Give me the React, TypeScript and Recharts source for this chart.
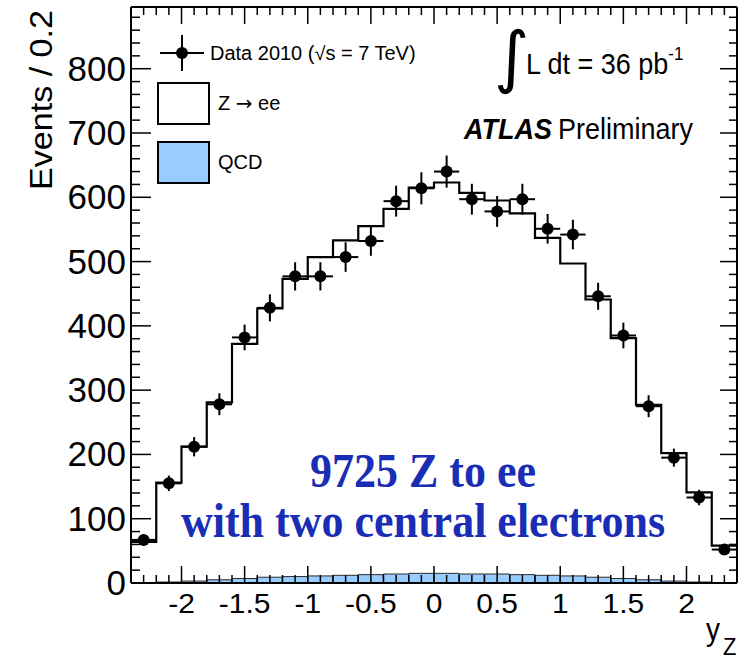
import React from 'react';
import { ComposedChart, XAxis, YAxis, Bar, Line, Scatter, ErrorBar } from 'recharts';

// ---- data ----
const binCenters = [-2.3, -2.1, -1.9, -1.7, -1.5, -1.3, -1.1, -0.9, -0.7, -0.5, -0.3, -0.1, 0.1, 0.3, 0.5, 0.7, 0.9, 1.1, 1.3, 1.5, 1.7, 1.9, 2.1, 2.3];
const binEdges = [-2.4, -2.2, -2.0, -1.8, -1.6, -1.4, -1.2, -1.0, -0.8, -0.6, -0.4, -0.2, 0, 0.2, 0.4, 0.6, 0.8, 1.0, 1.2, 1.4, 1.6, 1.8, 2.0, 2.2, 2.4];
const dataEvents = [67, 155, 212, 278, 382, 428, 477, 477, 507, 532, 594, 614, 640, 597, 578, 597, 551, 542, 446, 385, 275, 195, 133, 52];
const dataErrors = [8, 12, 15, 17, 20, 21, 22, 22, 23, 23, 24, 25, 25, 24, 24, 24, 23, 23, 21, 20, 17, 14, 12, 7];
const mcTotal = [64, 156, 212, 281, 372, 427, 473, 507, 533, 555, 582, 615, 623, 607, 595, 575, 537, 497, 441, 381, 277, 202, 141, 58];
const qcdEvents = [0.5, 1.5, 3, 5, 7, 9, 10, 11, 12, 13, 14, 15, 15, 14, 14, 13, 12, 11, 9, 7, 5, 3, 1.5, 0.5];
const binHalfWidth = 0.1;

const xMajorTicks = [-2, -1.5, -1, -0.5, 0, 0.5, 1, 1.5, 2];
const xAllTicks = Array.from({ length: 47 }, (_, i) => Math.round(-23 + i) / 10);
const yMajorTicks = [0, 100, 200, 300, 400, 500, 600, 700, 800];
const yAllTicks = Array.from({ length: 45 }, (_, i) => i * 20);
const yMax = 896;

const binTable = binCenters.map((c, i) => ({
  x: c,
  cat: String(i),
  data: dataEvents[i],
  err: dataErrors[i],
  xerr: binHalfWidth,
  qcd: qcdEvents[i],
}));
const stepTable = binEdges.map((e, i) => ({ x: e, mc: mcTotal[Math.min(i, mcTotal.length - 1)] }));

// ---- styles ----
const SANS = '"Liberation Sans", Arial, Helvetica, sans-serif';
const SERIF = '"Liberation Serif", "Times New Roman", serif';
const STRETCH = 1.1;

const isMajorX = (v: number) => xMajorTicks.some((m) => Math.abs(m - v) < 1e-6);
const isMajorY = (v: number) => yMajorTicks.some((m) => Math.abs(m - v) < 1e-6);

function SText(props: any) {
  const { x, y, size, anchor = 'start', family = SANS, weight = 'normal', italic = false, fill = '#000', rotate = 0, stretch = STRETCH, children } = props;
  const rot = rotate ? ` rotate(${rotate})` : '';
  return (
    <text
      transform={`translate(${x},${y}) scale(1,${stretch})${rot}`}
      x={0}
      y={0}
      fontSize={size}
      fontFamily={family}
      fontWeight={weight}
      fontStyle={italic ? 'italic' : 'normal'}
      textAnchor={anchor}
      fill={fill}
    >
      {children}
    </text>
  );
}

const BottomTick = (p: any) => {
  const v = p.payload.value;
  const major = isMajorX(v);
  return (
    <g>
      <line x1={p.x} x2={p.x} y1={p.y} y2={p.y - (major ? 17 : 8)} stroke="#000" strokeWidth={1.5} />
      {major && (
        <SText x={p.x} y={p.y + 30} size={30} stretch={0.95} anchor="middle">
          {String(v)}
        </SText>
      )}
    </g>
  );
};

const TopTick = (p: any) => {
  const v = p.payload.value;
  const major = isMajorX(v);
  return <line x1={p.x} x2={p.x} y1={p.y} y2={p.y + (major ? 17 : 8)} stroke="#000" strokeWidth={1.5} />;
};

const LeftTick = (p: any) => {
  const v = p.payload.value;
  const major = isMajorY(v);
  return (
    <g>
      <line x1={p.x} x2={p.x + (major ? 20 : 9)} y1={p.y} y2={p.y} stroke="#000" strokeWidth={1.5} />
      {major && (
        <SText x={p.x - 5} y={p.y + 12} size={35} stretch={0.98} anchor="end">
          {String(v)}
        </SText>
      )}
    </g>
  );
};

const RightTick = (p: any) => {
  const v = p.payload.value;
  const major = isMajorY(v);
  return <line x1={p.x} x2={p.x - (major ? 17 : 8)} y1={p.y} y2={p.y} stroke="#000" strokeWidth={1.5} />;
};

const DataPoint = (p: any) => <circle cx={p.cx} cy={p.cy} r={6} fill="#000" />;

export default function App() {
  return (
    <div style={{ position: 'absolute', left: 0, top: 0, width: 747, height: 659, background: '#fff' }}>
      <ComposedChart
        width={747}
        height={659}
        data={binTable}
        margin={{ top: 6, right: 9, left: 0, bottom: 0 }}
        barCategoryGap={0}
        barGap={0}
      >
        <XAxis
          xAxisId="x"
          type="number"
          dataKey="x"
          domain={[-2.4, 2.4]}
          allowDataOverflow
          ticks={xAllTicks}
          interval={0}
          height={76}
          tickSize={0}
          tickMargin={0}
          tickLine={false}
          axisLine={{ stroke: '#000', strokeWidth: 2 }}
          tick={BottomTick}
        />
        <XAxis xAxisId="cat" type="category" dataKey="cat" hide height={0} />
        <XAxis
          xAxisId="top"
          orientation="top"
          type="number"
          dataKey="x"
          domain={[-2.4, 2.4]}
          allowDataOverflow
          ticks={xAllTicks}
          interval={0}
          height={1}
          tickSize={0}
          tickMargin={0}
          tickLine={false}
          axisLine={{ stroke: '#000', strokeWidth: 2 }}
          tick={TopTick}
        />
        <YAxis
          yAxisId="y"
          type="number"
          domain={[0, yMax]}
          allowDataOverflow
          ticks={yAllTicks}
          interval={0}
          width={131}
          tickSize={0}
          tickMargin={0}
          tickLine={false}
          axisLine={{ stroke: '#000', strokeWidth: 2 }}
          tick={LeftTick}
        />
        <YAxis
          yAxisId="right"
          orientation="right"
          type="number"
          domain={[0, yMax]}
          allowDataOverflow
          ticks={yAllTicks}
          interval={0}
          width={1}
          tickSize={0}
          tickMargin={0}
          tickLine={false}
          axisLine={{ stroke: '#000', strokeWidth: 2 }}
          tick={RightTick}
        />
        <Bar xAxisId="cat" yAxisId="y" dataKey="qcd" fill="#99ccff" stroke="#2a2a2a" strokeWidth={1} isAnimationActive={false} />
        <Line
          xAxisId="x"
          yAxisId="y"
          data={stepTable}
          dataKey="mc"
          type="stepAfter"
          stroke="#000"
          strokeWidth={2.2}
          dot={false}
          activeDot={false}
          isAnimationActive={false}
        />
        <Line
          xAxisId="top"
          yAxisId="right"
          data={stepTable}
          dataKey="mc"
          stroke="none"
          dot={false}
          activeDot={false}
          isAnimationActive={false}
        />
        <Scatter xAxisId="x" yAxisId="y" dataKey="data" shape={DataPoint} isAnimationActive={false}>
          <ErrorBar dataKey="err" direction="y" width={0} stroke="#000" strokeWidth={2} />
          <ErrorBar dataKey="xerr" direction="x" width={0} stroke="#000" strokeWidth={2} />
        </Scatter>
      </ComposedChart>

      <svg width={747} height={659} style={{ position: 'absolute', left: 0, top: 0, pointerEvents: 'none' }}>
        {/* axis titles */}
        <SText x={51.7} y={10} size={31} anchor="end" rotate={-90}>
          Events / 0.2
        </SText>
        <SText x={706} y={640} size={28}>y</SText>
        <SText x={723} y={655} size={22}>Z</SText>

        {/* legend */}
        <line x1={160} x2={204} y1={53} y2={53} stroke="#000" strokeWidth={2} />
        <line x1={182} x2={182} y1={35} y2={71} stroke="#000" strokeWidth={2} />
        <circle cx={182} cy={53} r={6} fill="#000" />
        <SText x={210} y={60} size={20} stretch={0.97}>Data 2010 (√s = 7 TeV)</SText>
        <rect x={158} y={83} width={51} height={41} fill="#fff" stroke="#000" strokeWidth={2} />
        <text transform="translate(218,110) scale(1,0.97)" x={0} y={0} fontSize={20} fontFamily={SANS}>
          Z <tspan fontFamily={'"DejaVu Sans", sans-serif'}>→</tspan> ee
        </text>
        <rect x={158} y={142} width={51} height={41} fill="#99ccff" stroke="#000" strokeWidth={2} />
        <SText x={218} y={169} size={20} stretch={0.97}>QCD</SText>

        {/* luminosity */}
        <SText x={494} y={80} size={68} family={'"DejaVu Sans", sans-serif'} stretch={1.0}>∫</SText>
        <text transform={`translate(526,74) scale(1,${STRETCH})`} x={0} y={0} fontSize={27} fontFamily={SANS}>
          L dt = 36 pb<tspan dy={-13} fontSize={17}>-1</tspan>
        </text>

        {/* ATLAS label */}
        <SText x={552} y={139} size={27} weight="bold" italic anchor="end">ATLAS</SText>
        <SText x={693} y={139} size={27} anchor="end">Preliminary</SText>

        {/* blue annotation */}
        <SText x={423} y={487} size={44} family={SERIF} weight="bold" anchor="middle" fill="#1a2db5">
          9725 Z to ee
        </SText>
        <SText x={423} y={537} size={44} family={SERIF} weight="bold" anchor="middle" fill="#1a2db5">
          with two central electrons
        </SText>
      </svg>
    </div>
  );
}
